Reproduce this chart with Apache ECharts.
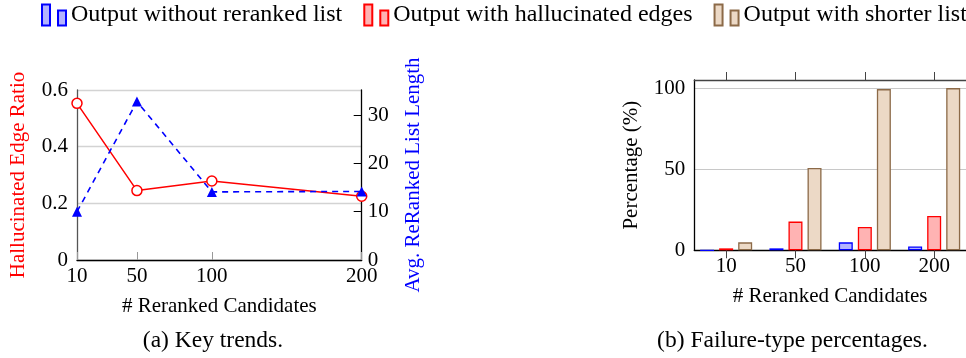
<!DOCTYPE html>
<html>
<head>
<meta charset="utf-8">
<script src="https://cdn.jsdelivr.net/npm/echarts@6/dist/echarts.min.js"></script>
<style>
  html, body { margin: 0; padding: 0; background: #fff; }
  #chart { width: 966px; height: 358px; }
</style>
</head>
<body>
<div id="chart"></div>
<script>
// data
const candidates = ['10', '50', '100', '200']
const candidateNums = [10, 50, 100, 200]
const hallucinatedRatio = [0.553, 0.245, 0.279, 0.225]
const avgListLength = [10.0, 32.8, 14.1, 14.2]
const noListPct = [0, 1.2, 4.9, 2.3]
const hallucinatedPct = [1.2, 17.7, 14.4, 21.2]
const shorterPct = [4.9, 50.8, 99.4, 100]

const ratioTicks = [0, 0.2, 0.4, 0.6]
const lengthTicks = [0, 10, 20, 30]
const pctTicks = [0, 50, 100]

const FONT = '"Liberation Serif", serif'
const barIdx = candidates.map((_, i) => i)

const chart = echarts.init(document.getElementById('chart'))

const legendIcon = 'path://M0,0h8v21h-8z M16,6h8v15h-8z'

const txt = (size, color) => ({ fontFamily: FONT, fontSize: size, color: color || '#000' })

const barSeries = (name, values, fill, stroke) => ({
  name,
  type: 'bar',
  xAxisIndex: 1,
  yAxisIndex: 2,
  barWidth: 14,
  barGap: '36%',
  data: values.map((v, i) => [barIdx[i], v]),
  itemStyle: { color: fill, borderColor: stroke, borderWidth: 1.3 },
  emphasis: { disabled: true },
})

const option = {
  animation: false,
  textStyle: { fontFamily: FONT, color: '#000' },
  legend: {
    left: 41,
    top: 3,
    width: 1000,
    padding: 0,
    itemWidth: 24,
    itemHeight: 21,
    itemGap: 21,
    icon: legendIcon,
    textStyle: txt(24),
    data: ['Output without reranked list', 'Output with hallucinated edges', 'Output with shorter list'],
  },
  grid: [
    { left: 77, top: 90, width: 284.7, height: 170 },
    { left: 694.3, top: 80, width: 285, height: 170.3 },
  ],
  xAxis: [
    {
      gridIndex: 0,
      type: 'value',
      min: 10,
      max: 200,
      name: '# Reranked Candidates',
      nameLocation: 'middle',
      nameGap: 36,
      nameTextStyle: txt(21),
      axisLine: { lineStyle: { color: '#000', width: 1.3 } },
      axisTick: { inside: true, length: 8, customValues: candidateNums, lineStyle: { color: '#999' } },
      axisLabel: { customValues: candidateNums, ...txt(21), margin: 6 },
      splitLine: { show: false },
    },
    {
      gridIndex: 1,
      type: 'value',
      min: -0.459,
      max: 3.459,
      name: '# Reranked Candidates',
      nameLocation: 'middle',
      nameGap: 36,
      nameTextStyle: txt(21),
      axisLine: { onZero: false, lineStyle: { color: '#000', width: 1.3 } },
      axisTick: { length: 8, customValues: barIdx, lineStyle: { color: '#444' } },
      axisLabel: {
        customValues: barIdx,
        ...txt(21),
        margin: 6,
        formatter: v => candidates[Math.round(v)],
      },
      splitLine: { show: false },
    },
    {
      gridIndex: 1,
      type: 'value',
      position: 'top',
      min: -0.459,
      max: 3.459,
      axisLine: { onZero: false, lineStyle: { color: '#444', width: 1.3 } },
      axisTick: { length: 8, customValues: barIdx, lineStyle: { color: '#444' } },
      axisLabel: { show: false },
      splitLine: { show: false },
    },
  ],
  yAxis: [
    {
      gridIndex: 0,
      type: 'value',
      min: 0,
      max: 0.6,
      interval: 0.2,
      name: 'Hallucinated Edge Ratio',
      nameLocation: 'middle',
      nameGap: 48,
      nameTextStyle: txt(21, '#ff0000'),
      axisLine: { show: true, onZero: false, lineStyle: { color: '#555', width: 1.3 } },
      axisTick: { show: false },
      axisLabel: {
        customValues: ratioTicks,
        ...txt(21),
        margin: 9,
        formatter: v => (v === 0 ? '0' : v.toFixed(1)),
      },
      splitLine: { lineStyle: { color: '#d3d3d3', width: 1.3 } },
    },
    {
      gridIndex: 0,
      type: 'value',
      position: 'right',
      min: 0,
      max: 35.2,
      name: 'Avg. ReRanked List Length',
      nameLocation: 'middle',
      nameGap: 41,
      nameTextStyle: txt(21, '#0000ff'),
      axisLine: { show: true, onZero: false, lineStyle: { color: '#000', width: 1.3 } },
      axisTick: { inside: true, length: 8, customValues: lengthTicks, lineStyle: { color: '#000' } },
      axisLabel: { customValues: lengthTicks, ...txt(21), margin: 6 },
      splitLine: { show: false },
    },
    {
      gridIndex: 1,
      type: 'value',
      min: 0,
      max: 105,
      interval: 50,
      name: 'Percentage (%)',
      nameLocation: 'middle',
      nameGap: 52,
      nameTextStyle: txt(21),
      axisLine: { show: true, onZero: false, lineStyle: { color: '#000', width: 1.3 } },
      axisTick: { show: false },
      axisLabel: { customValues: pctTicks, ...txt(21), margin: 9 },
      splitLine: { lineStyle: { color: '#c8c8c8', width: 1 } },
    },
  ],
  series: [
    {
      name: 'Hallucinated Edge Ratio',
      type: 'line',
      xAxisIndex: 0,
      yAxisIndex: 0,
      data: candidateNums.map((c, i) => [c, hallucinatedRatio[i]]),
      symbol: 'circle',
      symbolSize: 10,
      showAllSymbol: true,
      lineStyle: { color: '#ff0000', width: 1.5 },
      itemStyle: { color: '#fff', borderColor: '#ff0000', borderWidth: 1.5 },
      z: 3,
    },
    {
      name: 'Avg. ReRanked List Length',
      type: 'line',
      xAxisIndex: 0,
      yAxisIndex: 1,
      data: candidateNums.map((c, i) => [c, avgListLength[i]]),
      symbol: 'triangle',
      symbolSize: 10,
      showAllSymbol: true,
      lineStyle: { color: '#0000ff', width: 1.6, type: [6, 5] },
      itemStyle: { color: '#0000ff' },
      z: 4,
    },
    barSeries('Output without reranked list', noListPct, '#b3b3ff', '#0000ff'),
    barSeries('Output with hallucinated edges', hallucinatedPct, '#ffb3b3', '#ff0000'),
    barSeries('Output with shorter list', shorterPct, '#ecd9c6', '#8c6a48'),
  ],
  graphic: [
    {
      type: 'text',
      x: 213,
      y: 341,
      style: { text: '(a) Key trends.', font: '23.5px "Liberation Serif"', fill: '#000', align: 'center', verticalAlign: 'middle' },
    },
    {
      type: 'text',
      x: 792.5,
      y: 341,
      style: { text: '(b) Failure-type percentages.', font: '23.5px "Liberation Serif"', fill: '#000', align: 'center', verticalAlign: 'middle' },
    },
  ],
}

chart.setOption(option)
</script>
</body>
</html>
